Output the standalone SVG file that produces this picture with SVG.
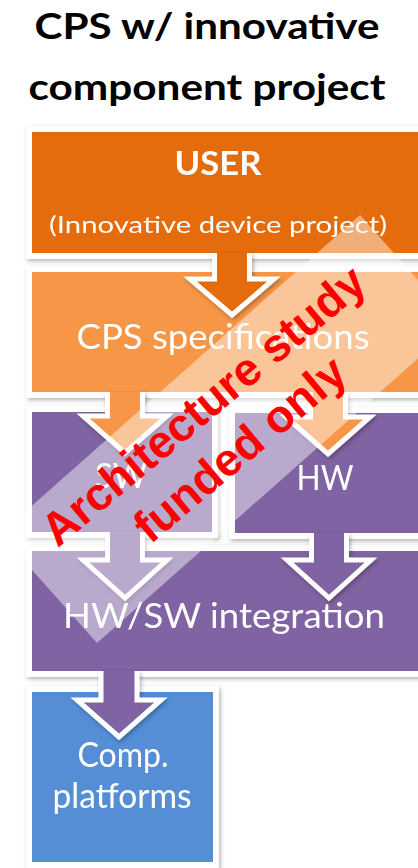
<svg xmlns="http://www.w3.org/2000/svg" width="418" height="868" viewBox="0 0 418 868">
<style>
.title{font-family:Lato,"Open Sans","Liberation Sans",sans-serif;font-weight:bold;fill:#000;text-anchor:middle}
.lbl{font-family:Lato,"Open Sans","Liberation Sans",sans-serif;fill:#fff;text-anchor:middle}
.box{stroke:#fff;stroke-width:6}
.arrow{stroke:#fff;stroke-width:5;stroke-linejoin:miter}
.stamp{font-family:"Liberation Sans",Arial,sans-serif;font-weight:bold;font-size:46px;fill:#ff0000;text-anchor:middle}
</style>
<defs>
<filter id="sh" x="-10%" y="-10%" width="120%" height="130%">
<feDropShadow dx="1.5" dy="2" stdDeviation="2" flood-color="#000" flood-opacity="0.3"/>
</filter>
</defs>
<rect width="418" height="868" fill="#fff"/>
<g id="title">
<text class="title" x="207" y="39" font-size="37" textLength="345" lengthAdjust="spacingAndGlyphs">CPS w/ innovative</text>
<text class="title" x="207" y="100" font-size="37" textLength="357" lengthAdjust="spacingAndGlyphs">component project</text>
</g>
<g id="user" filter="url(#sh)">
<rect class="box" x="29" y="129" width="400" height="127" fill="#e46c0a"/>
<text class="lbl" x="218" y="175" font-size="32" font-weight="bold" textLength="87" lengthAdjust="spacingAndGlyphs">USER</text>
<text class="lbl" x="218" y="233" font-size="24" textLength="338" lengthAdjust="spacingAndGlyphs">(Innovative device project)</text>
</g>
<g id="spec" filter="url(#sh)">
<rect class="box" x="29" y="269" width="400" height="126" fill="#f79646"/>
<text class="lbl" x="223" y="349" font-size="35" textLength="293" lengthAdjust="spacingAndGlyphs">CPS specifications</text>
</g>
<g id="sw" filter="url(#sh)">
<rect class="box" x="29" y="409" width="186" height="126" fill="#8064a2"/>
<text class="lbl" x="121" y="488" font-size="35" textLength="52" lengthAdjust="spacingAndGlyphs">SW</text>
</g>
<g id="hw" filter="url(#sh)">
<rect class="box" x="232" y="410" width="200" height="126" fill="#8064a2"/>
<text class="lbl" x="325" y="490" font-size="35" textLength="57" lengthAdjust="spacingAndGlyphs">HW</text>
</g>
<g id="integration" filter="url(#sh)">
<rect class="box" x="29" y="548" width="400" height="126" fill="#8064a2"/>
<text class="lbl" x="224" y="628" font-size="35" textLength="322" lengthAdjust="spacingAndGlyphs">HW/SW integration</text>
</g>
<g id="platforms" filter="url(#sh)">
<rect class="box" x="29" y="689" width="187" height="176" fill="#558ed5"/>
<text class="lbl" x="123" y="767" font-size="34" textLength="91" lengthAdjust="spacingAndGlyphs">Comp.</text>
<text class="lbl" x="122" y="808" font-size="34" textLength="139" lengthAdjust="spacingAndGlyphs">platforms</text>
</g>
<g id="connectors" filter="url(#sh)">
<path class="arrow" fill="#e46c0a" d="M214.5,253 L214.5,279 L190,279 L232,315 L274,279 L249.5,279 L249.5,253"/>
<path class="arrow" fill="#f79646" d="M107.5,392 L107.5,416 L83,416 L125,453 L167,416 L142.5,416 L142.5,392"/>
<path class="arrow" fill="#f79646" d="M310.5,392 L310.5,417 L286,417 L328,454 L370,417 L345.5,417 L345.5,392"/>
<path class="arrow" fill="#8064a2" d="M107.5,532 L107.5,560 L83,560 L125,598 L167,560 L142.5,560 L142.5,532"/>
<path class="arrow" fill="#8064a2" d="M311.5,533 L311.5,560 L287,560 L329,598 L371,560 L346.5,560 L346.5,533"/>
<path class="arrow" fill="#8064a2" d="M101,671 L101,700 L77,700 L119,737 L161,700 L137,700 L137,671"/>
</g>
<g id="stamp">
<polygon points="0,534 360,215 457,324 97,643" fill="#fff" fill-opacity="0.45"/>
<text class="stamp" x="213.5" y="417.5" transform="rotate(-40 213.5 417.5)">Architecture study</text>
<text class="stamp" x="250" y="461" transform="rotate(-40 250 461)">funded only</text>
</g>
</svg>
